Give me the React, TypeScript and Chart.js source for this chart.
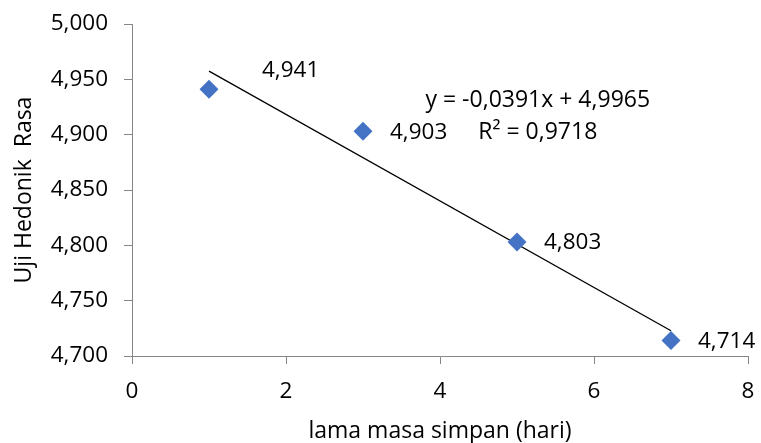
import React, { useEffect, useRef } from "react";
import { Chart, registerables } from "chart.js";

Chart.register(...registerables);

const days = [1, 3, 5, 7];
const scores = [4.941, 4.903, 4.803, 4.714];
const slope = -0.0391;
const intercept = 4.9965;
const rSquared = 0.9718;
const xTicks = [0, 2, 4, 6, 8];
const yTicks = [4.7, 4.75, 4.8, 4.85, 4.9, 4.95, 5.0];

const FONT = "'Open Sans', sans-serif";
const fmt3 = (v: number) => v.toFixed(3).replace(".", ",");
const fmt4 = (v: number) => v.toFixed(4).replace(".", ",");

const labelPlugin = {
  id: "labels",
  afterDatasetsDraw(chart: any) {
    const { ctx, scales } = chart;
    const xs = scales.x;
    const ys = scales.y;
    ctx.save();
    ctx.font = `22.5px ${FONT}`;
    ctx.fillStyle = "#000";
    ctx.textAlign = "left";
    ctx.textBaseline = "middle";
    days.forEach((d, i) => {
      const px = xs.getPixelForValue(d);
      const py = ys.getPixelForValue(scores[i]);
      if (i === 0) ctx.fillText(fmt3(scores[i]), px + 53, py - 19);
      else ctx.fillText(fmt3(scores[i]), px + 27, py + 1);
    });
    // equation
    ctx.font = `23px ${FONT}`;
    ctx.textAlign = "center";
    const ex = xs.getPixelForValue(5.27);
    const ey1 = ys.getPixelForValue(4.9307);
    const ey2 = ys.getPixelForValue(4.9018);
    const sign = slope < 0 ? "-" : "";
    ctx.fillText(`y = ${sign}${fmt4(Math.abs(slope))}x + ${fmt4(intercept)}`, ex, ey1);
    ctx.fillText(`R² = ${fmt4(rSquared)}`, ex, ey2);
    ctx.restore();
  },
};

export default function App() {
  const ref = useRef<HTMLCanvasElement | null>(null);
  useEffect(() => {
    if (!ref.current) return;
    const trendX = [days[0], days[days.length - 1]];
    const chart = new Chart(ref.current, {
      type: "scatter",
      data: {
        datasets: [
          {
            label: "Uji Hedonik Rasa",
            data: days.map((d, i) => ({ x: d, y: scores[i] })),
            backgroundColor: "#4472C4",
            borderColor: "#4472C4",
            pointStyle: "rectRot",
            pointRadius: 9.5,
            borderWidth: 0,
            order: 1,
          },
          {
            type: "line",
            label: "trend",
            data: trendX.map((x) => ({ x, y: slope * x + intercept })),
            borderColor: "#000",
            borderWidth: 1.3,
            pointRadius: 0,
            fill: false,
            order: 2,
          } as any,
        ],
      },
      options: {
        animation: false,
        responsive: false,
        maintainAspectRatio: false,
        layout: { padding: { top: 24, right: 13, bottom: 0, left: 0 }, autoPadding: false },
        plugins: { legend: { display: false }, tooltip: { enabled: false } },
        scales: {
          x: {
            type: "linear",
            min: 0,
            max: 8,
            afterBuildTicks: (s: any) => {
              s.ticks = xTicks.map((v) => ({ value: v }));
            },
            afterFit: (s: any) => {
              s.height = 87;
              s.paddingLeft = 0;
              s.paddingRight = 0;
            },
            ticks: {
              font: { family: FONT, size: 22.5 },
              color: "#000",
              padding: 14,
              callback: (v: any) => String(v),
            },
            grid: {
              display: true,
              drawOnChartArea: false,
              drawTicks: true,
              tickLength: 8,
              color: "#868686",
            },
            border: { color: "#868686", width: 1 },
            title: {
              display: true,
              text: "lama masa simpan (hari)",
              font: { family: FONT, size: 23, lineHeight: 1.0 },
              color: "#000",
              padding: { top: 0, bottom: 0 },
            },
          },
          y: {
            type: "linear",
            min: 4.7,
            max: 5.0,
            afterBuildTicks: (s: any) => {
              s.ticks = yTicks.map((v) => ({ value: v }));
            },
            afterFit: (s: any) => {
              s.width = 132;
              s.paddingTop = 0;
              s.paddingBottom = 0;
            },
            ticks: {
              font: { family: FONT, size: 22.5 },
              color: "#000",
              padding: 16,
              callback: (v: any) => fmt3(Number(v)),
            },
            grid: {
              display: true,
              drawOnChartArea: false,
              drawTicks: true,
              tickLength: 8,
              color: "#868686",
            },
            border: { color: "#868686", width: 1 },
            title: {
              display: true,
              text: "Uji Hedonik  Rasa",
              font: { family: FONT, size: 23, lineHeight: 1.2 },
              color: "#000",
              padding: { top: 11, bottom: 0 },
            },
          },
        },
      },
      plugins: [labelPlugin],
    });
    return () => chart.destroy();
  }, []);
  return (
    <div style={{ position: "fixed", left: 0, top: 0, width: 761, height: 443, background: "#fff" }}>
      <canvas ref={ref} width={761} height={443} style={{ width: 761, height: 443 }} />
    </div>
  );
}
